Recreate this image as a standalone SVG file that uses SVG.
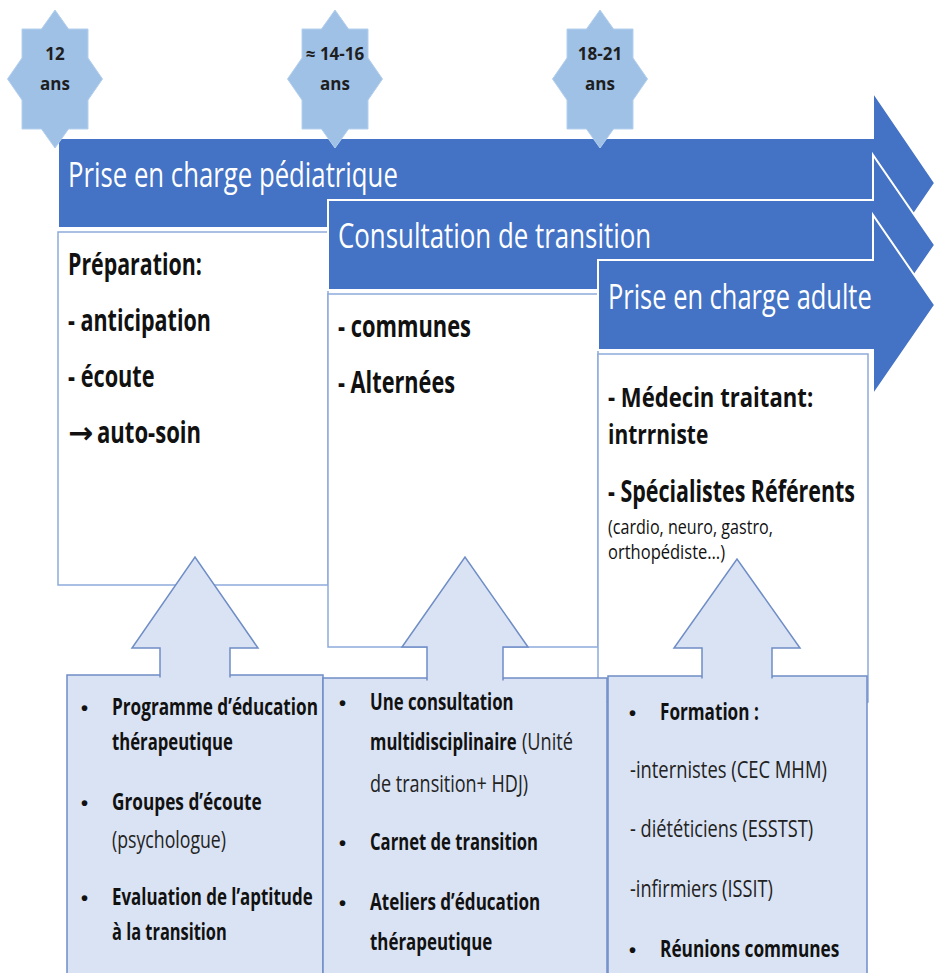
<svg xmlns="http://www.w3.org/2000/svg" width="938" height="973" viewBox="0 0 938 973">
<style>
.bg{fill:#ffffff}
.tl{fill:#4472c4;stroke:#ffffff;stroke-width:2}
.tlt{font-family:"Open Sans","Liberation Sans",sans-serif;font-size:34px;fill:#ffffff}
.star{fill:#9fc1e6;stroke:#b3cfee;stroke-width:1}
.st{font-family:"Open Sans","Liberation Sans",sans-serif;font-size:17px;font-weight:bold;fill:#1e1e1e;text-anchor:middle}
.box{fill:#ffffff;stroke:#8eaadb;stroke-width:1.5}
.bt{font-family:"Open Sans","Liberation Sans",sans-serif;font-size:30px;font-weight:bold;fill:#111111}
.bt2{font-family:"Open Sans","Liberation Sans",sans-serif;font-size:27px;font-weight:bold;fill:#111111}
.arr{font-family:"DejaVu Sans",sans-serif;font-size:30px;font-weight:bold;fill:#111111}
.bs{font-family:"Open Sans","Liberation Sans",sans-serif;font-size:20px;fill:#111111}
.sup{fill:#dae3f3;stroke:#6f8dc6;stroke-width:1.5}
.up{fill:#dae3f3;stroke:#6f8dc6;stroke-width:1.5;stroke-linejoin:miter}
.b{font-family:"Open Sans","Liberation Sans",sans-serif;font-size:23px;font-weight:bold;fill:#111111}
.n{font-family:"Open Sans","Liberation Sans",sans-serif;font-size:23px;fill:#222222}
.dot{font-family:"Liberation Sans",sans-serif;font-size:20px;font-weight:bold;fill:#111111}
</style>
<defs>
<path id="starShape" d="M0,-69 L13.5,-50 L33,-50 L33,-21 L47.5,0 L33,21 L33,50 L13.5,50 L0,69 L-13.5,50 L-33,50 L-33,21 L-47.5,0 L-33,-21 L-33,-50 L-13.5,-50 Z"/>
</defs>
<rect class="bg" x="0" y="0" width="938" height="973"/>

<g id="phase-pediatrique">
<path class="tl" d="M58,138 H873 V92 L935,183 L873,274 V228 H58 Z"/>
<text class="tlt" transform="translate(68,187) scale(0.76,1)" textLength="434" lengthAdjust="spacingAndGlyphs">Prise en charge pédiatrique</text>
</g>
<g id="box-preparation">
<rect class="box" x="58" y="232" width="270" height="353"/>
<text class="bt" transform="translate(68,275) scale(0.76,1)" textLength="176" lengthAdjust="spacingAndGlyphs">Préparation:</text>
<text class="bt" transform="translate(68,331) scale(0.76,1)" textLength="188" lengthAdjust="spacingAndGlyphs">- anticipation</text>
<text class="bt" transform="translate(68,387) scale(0.76,1)" textLength="114" lengthAdjust="spacingAndGlyphs">- écoute</text>
<text class="arr" x="68" y="443">→</text>
<text class="bt" transform="translate(97,443) scale(0.76,1)" textLength="137" lengthAdjust="spacingAndGlyphs">auto-soin</text>
</g>
<g id="phase-transition">
<path class="tl" d="M328,200 H873 V155 L935,245 L873,335 V290 H328 Z"/>
<text class="tlt" transform="translate(338,248) scale(0.76,1)" textLength="412" lengthAdjust="spacingAndGlyphs">Consultation de transition</text>
</g>
<g id="box-consultations">
<rect class="box" x="328" y="294" width="270" height="353"/>
<text class="bt" transform="translate(338,337) scale(0.76,1)" textLength="175" lengthAdjust="spacingAndGlyphs">- communes</text>
<text class="bt" transform="translate(338,393) scale(0.76,1)" textLength="154" lengthAdjust="spacingAndGlyphs">- Alternées</text>
</g>
<g id="phase-adulte">
<path class="tl" d="M598,260 H873 V215 L935,305 L873,395 V350 H598 Z"/>
<text class="tlt" transform="translate(608,309) scale(0.76,1)" textLength="347" lengthAdjust="spacingAndGlyphs">Prise en charge adulte</text>
</g>
<g id="box-adulte">
<rect class="box" x="598" y="354" width="270" height="348"/>
<text class="bt2" transform="translate(608,407) scale(0.76,1)" textLength="270" lengthAdjust="spacingAndGlyphs">- Médecin traitant:</text>
<text class="bt2" transform="translate(608,444) scale(0.76,1)" textLength="132" lengthAdjust="spacingAndGlyphs">intrrniste</text>
<text class="bt" transform="translate(608,502) scale(0.76,1)" textLength="325" lengthAdjust="spacingAndGlyphs">- Spécialistes Référents</text>
<text class="bs" transform="translate(608,534) scale(0.76,1)" textLength="217" lengthAdjust="spacingAndGlyphs">(cardio, neuro, gastro,</text>
<text class="bs" transform="translate(608,559) scale(0.76,1)" textLength="154" lengthAdjust="spacingAndGlyphs">orthopédiste…)</text>
</g>

<g id="age-12">
<use href="#starShape" class="star" transform="translate(55,79)"/>
<text class="st" x="55" y="60">12</text>
<text class="st" x="55" y="90">ans</text>
</g>
<g id="age-14-16">
<use href="#starShape" class="star" transform="translate(335,79)"/>
<text class="st" x="335" y="60">≈ 14-16</text>
<text class="st" x="335" y="90">ans</text>
</g>
<g id="age-18-21">
<use href="#starShape" class="star" transform="translate(600,79)"/>
<text class="st" x="600" y="60">18-21</text>
<text class="st" x="600" y="90">ans</text>
</g>

<g id="support-pediatrique">
<rect class="sup" x="67" y="675" width="256" height="320"/>
<text class="dot" x="81" y="715">•</text>
<text class="b" transform="translate(112,715) scale(0.76,1)" textLength="271" lengthAdjust="spacingAndGlyphs">Programme d’éducation</text>
<text class="b" transform="translate(112,750) scale(0.76,1)" textLength="159" lengthAdjust="spacingAndGlyphs">thérapeutique</text>
<text class="dot" x="81" y="810">•</text>
<text class="b" transform="translate(112,810) scale(0.76,1)" textLength="197" lengthAdjust="spacingAndGlyphs">Groupes d’écoute</text>
<text class="n" transform="translate(112,848) scale(0.76,1)" textLength="150" lengthAdjust="spacingAndGlyphs">(psychologue)</text>
<text class="dot" x="81" y="905">•</text>
<text class="b" transform="translate(112,905) scale(0.76,1)" textLength="264" lengthAdjust="spacingAndGlyphs">Evaluation de l’aptitude</text>
<text class="b" transform="translate(112,940) scale(0.76,1)" textLength="151" lengthAdjust="spacingAndGlyphs">à la transition</text>
</g>
<g id="support-transition">
<rect class="sup" x="323" y="678" width="284" height="320"/>
<text class="dot" x="339" y="710">•</text>
<text class="b" transform="translate(370,710) scale(0.76,1)" textLength="189" lengthAdjust="spacingAndGlyphs">Une consultation</text>
<text class="b" transform="translate(370,750) scale(0.76,1)" textLength="193" lengthAdjust="spacingAndGlyphs">multidisciplinaire</text>
<text class="n" transform="translate(522,750) scale(0.76,1)" textLength="67" lengthAdjust="spacingAndGlyphs">(Unité</text>
<text class="n" transform="translate(370,792) scale(0.76,1)" textLength="208" lengthAdjust="spacingAndGlyphs">de transition+ HDJ)</text>
<text class="dot" x="339" y="850">•</text>
<text class="b" transform="translate(370,850) scale(0.76,1)" textLength="221" lengthAdjust="spacingAndGlyphs">Carnet de transition</text>
<text class="dot" x="339" y="910">•</text>
<text class="b" transform="translate(370,910) scale(0.76,1)" textLength="224" lengthAdjust="spacingAndGlyphs">Ateliers d’éducation</text>
<text class="b" transform="translate(370,950) scale(0.76,1)" textLength="161" lengthAdjust="spacingAndGlyphs">thérapeutique</text>
</g>
<g id="support-adulte">
<rect class="sup" x="608" y="676" width="259" height="320"/>
<text class="dot" x="629" y="720">•</text>
<text class="b" transform="translate(660,720) scale(0.76,1)" textLength="130" lengthAdjust="spacingAndGlyphs">Formation :</text>
<text class="n" transform="translate(630,778) scale(0.76,1)" textLength="259" lengthAdjust="spacingAndGlyphs">-internistes (CEC MHM)</text>
<text class="n" transform="translate(630,837) scale(0.76,1)" textLength="241" lengthAdjust="spacingAndGlyphs">- diététiciens (ESSTST)</text>
<text class="n" transform="translate(630,897) scale(0.76,1)" textLength="188" lengthAdjust="spacingAndGlyphs">-infirmiers (ISSIT)</text>
<text class="dot" x="629" y="957">•</text>
<text class="b" transform="translate(660,957) scale(0.76,1)" textLength="236" lengthAdjust="spacingAndGlyphs">Réunions communes</text>
</g>

<g id="connectors">
<path class="up" d="M160,677.5 V648 H132 L195,557 L258,648 H230 V677.5"/>
<path class="up" d="M427,680.5 V647 H402 L465,557 L528,647 H503 V680.5"/>
<path class="up" d="M702,678.5 V648 H674 L737,559 L800,648 H772 V678.5"/>
</g>
</svg>
